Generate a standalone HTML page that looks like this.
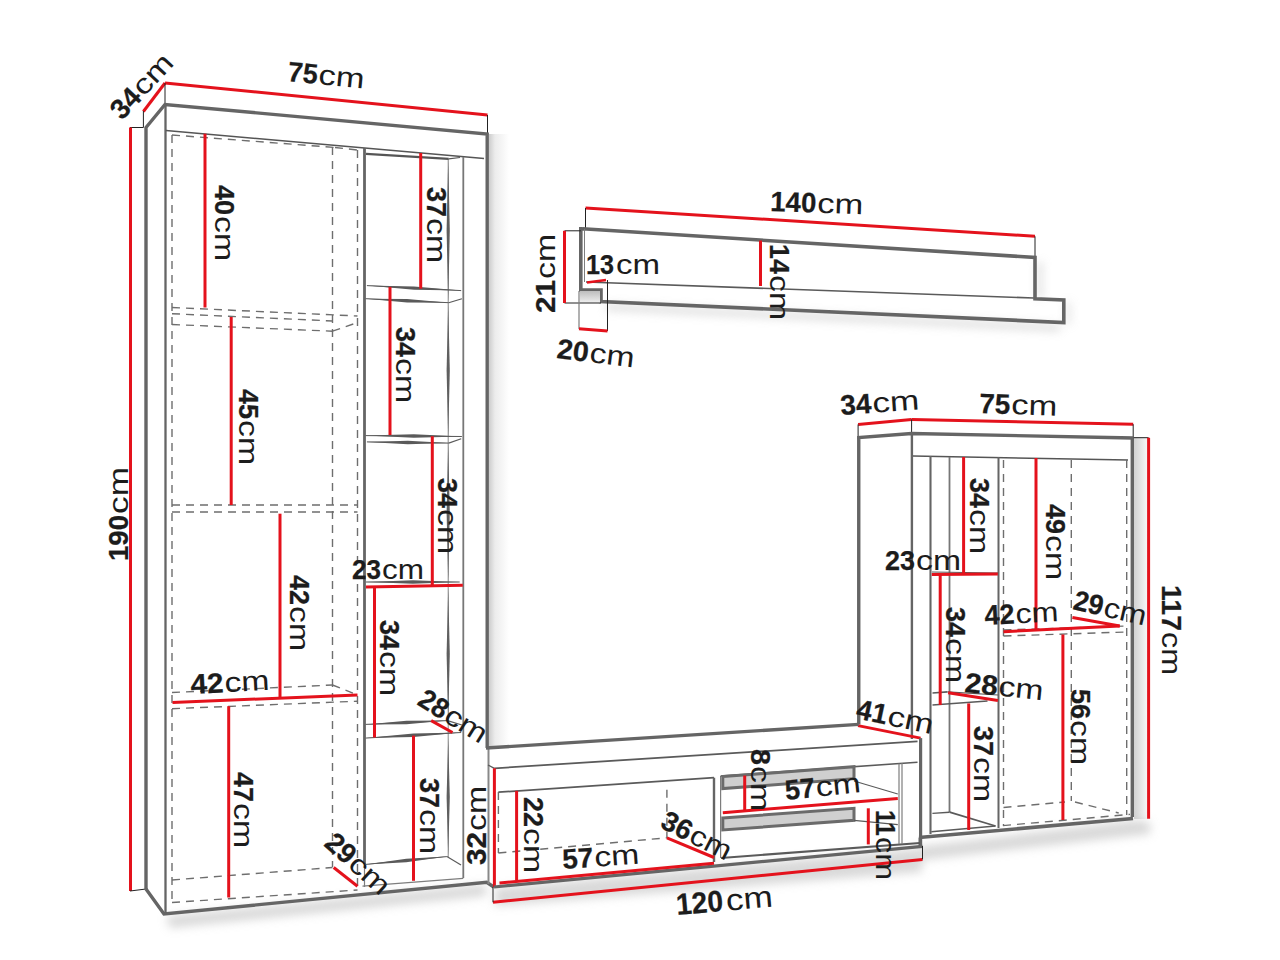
<!DOCTYPE html>
<html><head><meta charset="utf-8"><style>
html,body{margin:0;padding:0;background:#fff;}
svg{display:block;}
text{font-family:"Liberation Sans",sans-serif;fill:#1c1c1c;}
</style></head><body>
<svg width="1280" height="960" viewBox="0 0 1280 960">
<defs>
<linearGradient id="gH" x1="0" y1="0" x2="1" y2="0"><stop offset="0" stop-color="#cdcdcd"/><stop offset="0.3" stop-color="#ececec"/><stop offset="1" stop-color="#fff"/></linearGradient>
<linearGradient id="gH2" x1="0" y1="0" x2="1" y2="0"><stop offset="0" stop-color="#d2d2d2"/><stop offset="1" stop-color="#f8f8f8"/></linearGradient>
<linearGradient id="gV" x1="0" y1="0" x2="0" y2="1"><stop offset="0" stop-color="#bdbdbd"/><stop offset="1" stop-color="#f0f0f0"/></linearGradient>
<filter id="blur" x="-20%" y="-50%" width="140%" height="200%"><feGaussianBlur stdDeviation="5"/></filter>
</defs>
<rect width="1280" height="960" fill="#fff"/>
<rect x="489" y="134" width="20" height="614" fill="url(#gH)"/>
<rect x="1134" y="437" width="14" height="382" fill="url(#gH2)"/>
<g filter="url(#blur)" fill="#c0c0c0" opacity="0.6">
<polygon points="166,916 486,884 486,896 170,928"/>
<polygon points="606,304 1060,325 1060,331 606,310"/>
<polygon points="1037,262 1042,262 1042,298 1037,298"/>
<polygon points="1066,302 1070,302 1070,324 1066,324"/>
<polygon points="495,888 922,848 922,872 495,906"/>
<polygon points="922,846 1134,820 1150,822 1150,834 922,860"/>
</g>
<line x1="143.4" y1="111.5" x2="165" y2="83" stroke="#e4121c" stroke-width="3" />
<line x1="165" y1="83" x2="487.5" y2="115" stroke="#e4121c" stroke-width="3" />
<line x1="165" y1="83" x2="165" y2="105" stroke="#222" stroke-width="1" />
<line x1="143.4" y1="111" x2="143.4" y2="127.5" stroke="#222" stroke-width="1" />
<line x1="130" y1="127.5" x2="143.4" y2="127.5" stroke="#222" stroke-width="1" />
<line x1="487.5" y1="115" x2="487.5" y2="134" stroke="#222" stroke-width="1" />
<line x1="130.5" y1="127.5" x2="130.5" y2="891" stroke="#e4121c" stroke-width="3" />
<line x1="130" y1="891" x2="146" y2="889" stroke="#222" stroke-width="1" />
<polyline points="146,889 146,127.5 165,104.5 487.2,134 487.2,748" stroke="#656565" stroke-width="3.4" fill="none" stroke-linejoin="miter" />
<polyline points="146,889 164,914 486.7,882.3 493.8,887" stroke="#656565" stroke-width="3.4" fill="none" stroke-linejoin="miter" />
<line x1="165.5" y1="104.5" x2="165.5" y2="914" stroke="#656565" stroke-width="2.3" />
<line x1="166" y1="130.5" x2="484" y2="158.5" stroke="#555" stroke-width="1.5" />
<line x1="364.5" y1="148" x2="364.5" y2="864" stroke="#656565" stroke-width="2.8" />
<line x1="364.5" y1="864" x2="364.5" y2="887" stroke="#7d7d7d" stroke-width="1.2" />
<line x1="448.2" y1="159" x2="448.2" y2="857" stroke="#8a8a8a" stroke-width="1.0" />
<polygon points="448.2,159 449.8,230.5 448.2,302 446.59999999999997,230.5" fill="#5f5f5f" />
<polygon points="448.2,303 449.8,370.5 448.2,438 446.59999999999997,370.5" fill="#5f5f5f" />
<polygon points="448.2,443 449.8,512.5 448.2,582 446.59999999999997,512.5" fill="#5f5f5f" />
<polygon points="448.2,588 449.8,654.0 448.2,720 446.59999999999997,654.0" fill="#5f5f5f" />
<polygon points="448.2,738 449.8,797.0 448.2,856 446.59999999999997,797.0" fill="#5f5f5f" />
<line x1="463.3" y1="157" x2="463.3" y2="878" stroke="#777" stroke-width="1.8" />
<line x1="488.5" y1="748" x2="488.5" y2="884" stroke="#888" stroke-width="2" />
<line x1="366" y1="153.8" x2="448.7" y2="158.8" stroke="#555" stroke-width="2.2" />
<line x1="448.7" y1="158.8" x2="460" y2="157.5" stroke="#555" stroke-width="1.2" />
<line x1="366.9" y1="285.6" x2="461.2" y2="290.6" stroke="#5a5a5a" stroke-width="1.0" />
<polygon points="366.9,285.6 414.04999999999995,286.40000000000003 461.2,290.6 414.04999999999995,289.8" fill="#5a5a5a" />
<line x1="365.6" y1="298.7" x2="448.7" y2="302.7" stroke="#5a5a5a" stroke-width="1.0" />
<polygon points="365.6,298.7 407.15,299.0 448.7,302.7 407.15,302.4" fill="#5a5a5a" />
<line x1="448.7" y1="302.7" x2="461.9" y2="298.7" stroke="#5a5a5a" stroke-width="1.2" />
<line x1="365.6" y1="435.6" x2="461.9" y2="436.5" stroke="#5a5a5a" stroke-width="1.0" />
<polygon points="365.6,435.6 413.75,434.35 461.9,436.5 413.75,437.75" fill="#5a5a5a" />
<line x1="366.9" y1="441.9" x2="448.7" y2="443.1" stroke="#5a5a5a" stroke-width="1.0" />
<polygon points="366.9,441.9 407.79999999999995,440.8 448.7,443.1 407.79999999999995,444.2" fill="#5a5a5a" />
<line x1="448.7" y1="443.1" x2="461.2" y2="438.7" stroke="#5a5a5a" stroke-width="1.2" />
<line x1="366" y1="582" x2="459.7" y2="582" stroke="#5a5a5a" stroke-width="1.0" />
<polygon points="366,582 412.85,580.3 459.7,582 412.85,583.7" fill="#5a5a5a" />
<line x1="365.6" y1="724.4" x2="447.5" y2="720.6" stroke="#5a5a5a" stroke-width="1.0" />
<polygon points="365.6,724.4 406.55,720.8 447.5,720.6 406.55,724.2" fill="#5a5a5a" />
<line x1="447.5" y1="720.6" x2="461.9" y2="725" stroke="#5a5a5a" stroke-width="1.2" />
<line x1="365.6" y1="738.1" x2="461.2" y2="732.5" stroke="#5a5a5a" stroke-width="1.0" />
<polygon points="365.6,738.1 413.4,733.5999999999999 461.2,732.5 413.4,737.0" fill="#5a5a5a" />
<line x1="365.6" y1="864.4" x2="446.9" y2="856.6" stroke="#5a5a5a" stroke-width="1.0" />
<polygon points="365.6,864.4 406.25,858.8 446.9,856.6 406.25,862.2" fill="#5a5a5a" />
<line x1="446.9" y1="856.6" x2="461" y2="865" stroke="#5a5a5a" stroke-width="1.2" />
<line x1="362.5" y1="886.2" x2="463.3" y2="878.4" stroke="#7d7d7d" stroke-width="1.2" />
<line x1="172" y1="135" x2="172" y2="902" stroke="#6e6e6e" stroke-width="1.4" stroke-dasharray="8 6"/>
<line x1="332.5" y1="147" x2="332.5" y2="867" stroke="#6e6e6e" stroke-width="1.4" stroke-dasharray="8 6"/>
<line x1="357.5" y1="150" x2="357.5" y2="890" stroke="#6e6e6e" stroke-width="1.4" stroke-dasharray="8 6"/>
<line x1="172" y1="135" x2="335" y2="147.5" stroke="#6e6e6e" stroke-width="1.4" stroke-dasharray="8 6"/>
<line x1="335" y1="147.5" x2="357.5" y2="150" stroke="#6e6e6e" stroke-width="1.4" stroke-dasharray="8 6"/>
<line x1="172" y1="307.5" x2="357.5" y2="316" stroke="#6e6e6e" stroke-width="1.4" stroke-dasharray="8 6"/>
<line x1="172" y1="313.7" x2="332.5" y2="321" stroke="#6e6e6e" stroke-width="1.4" stroke-dasharray="8 6"/>
<line x1="172" y1="324.5" x2="332.5" y2="331.2" stroke="#6e6e6e" stroke-width="1.4" stroke-dasharray="8 6"/>
<line x1="332.5" y1="331.2" x2="357.5" y2="322.5" stroke="#6e6e6e" stroke-width="1.4" stroke-dasharray="8 6"/>
<line x1="172" y1="505" x2="357.5" y2="505" stroke="#6e6e6e" stroke-width="1.4" stroke-dasharray="8 6"/>
<line x1="172" y1="512" x2="357.5" y2="512" stroke="#6e6e6e" stroke-width="1.4" stroke-dasharray="8 6"/>
<line x1="172" y1="692.5" x2="332.5" y2="685" stroke="#6e6e6e" stroke-width="1.4" stroke-dasharray="8 6"/>
<line x1="332.5" y1="685" x2="357.5" y2="695" stroke="#6e6e6e" stroke-width="1.4" stroke-dasharray="8 6"/>
<line x1="172" y1="708.7" x2="357.5" y2="701.2" stroke="#6e6e6e" stroke-width="1.4" stroke-dasharray="8 6"/>
<line x1="172" y1="880" x2="332.5" y2="867.5" stroke="#6e6e6e" stroke-width="1.4" stroke-dasharray="8 6"/>
<line x1="172" y1="902.5" x2="357.5" y2="890" stroke="#6e6e6e" stroke-width="1.4" stroke-dasharray="8 6"/>
<line x1="205" y1="133.7" x2="205" y2="307.5" stroke="#e4121c" stroke-width="3" />
<line x1="231.2" y1="317" x2="231.2" y2="505" stroke="#e4121c" stroke-width="3" />
<line x1="280" y1="513.7" x2="280" y2="697.5" stroke="#e4121c" stroke-width="3" />
<line x1="172.5" y1="702.5" x2="357.5" y2="695" stroke="#e4121c" stroke-width="3" />
<line x1="228.7" y1="706.2" x2="228.7" y2="897.5" stroke="#e4121c" stroke-width="3" />
<line x1="333.7" y1="867.5" x2="357.5" y2="886.2" stroke="#e4121c" stroke-width="3" />
<line x1="420.7" y1="153" x2="420.7" y2="288.7" stroke="#e4121c" stroke-width="3" />
<line x1="390" y1="286.9" x2="390" y2="435" stroke="#e4121c" stroke-width="3" />
<line x1="432.3" y1="436.2" x2="432.3" y2="586" stroke="#e4121c" stroke-width="3" />
<line x1="366" y1="586.9" x2="462.8" y2="585.3" stroke="#e4121c" stroke-width="3" />
<line x1="374.5" y1="587" x2="374.5" y2="737.5" stroke="#e4121c" stroke-width="3" />
<line x1="431.2" y1="720.6" x2="452.5" y2="732.5" stroke="#e4121c" stroke-width="3" />
<line x1="413.5" y1="735.6" x2="413.5" y2="880.8" stroke="#e4121c" stroke-width="3" />
<line x1="585.5" y1="208" x2="1035" y2="236.3" stroke="#e4121c" stroke-width="3" />
<line x1="585.5" y1="208" x2="585.5" y2="228.5" stroke="#222" stroke-width="1" />
<line x1="1035" y1="236.3" x2="1035" y2="257.5" stroke="#222" stroke-width="1" />
<polyline points="582.5,228.8 1035,257.5 1035,298.8 1063.8,300 1063.8,322.5 601,301.5 601,290 580.8,290 580.8,228.8 582.5,228.8" stroke="#656565" stroke-width="3.6" fill="none" stroke-linejoin="miter" />
<rect x="580" y="291" width="20" height="12" fill="url(#gV)"/>
<line x1="586" y1="282" x2="1033.7" y2="298" stroke="#5a5a5a" stroke-width="1.6" />
<line x1="584.5" y1="229" x2="584.5" y2="282" stroke="#7d7d7d" stroke-width="1" />
<line x1="587" y1="282.5" x2="606" y2="280" stroke="#e4121c" stroke-width="2.5" />
<line x1="607.5" y1="280" x2="607.5" y2="331" stroke="#222" stroke-width="1" />
<line x1="564.5" y1="230.8" x2="580.8" y2="230.8" stroke="#222" stroke-width="1" />
<line x1="564.5" y1="303" x2="601" y2="303" stroke="#222" stroke-width="1" />
<line x1="564.5" y1="230.8" x2="564.5" y2="303" stroke="#e4121c" stroke-width="3" />
<line x1="579" y1="291" x2="579" y2="329" stroke="#7d7d7d" stroke-width="1.2" />
<line x1="579" y1="328.8" x2="607.5" y2="331" stroke="#e4121c" stroke-width="3" />
<line x1="760.5" y1="240.5" x2="760.5" y2="286" stroke="#e4121c" stroke-width="3" />
<line x1="858.1" y1="424.4" x2="911.6" y2="419.4" stroke="#e4121c" stroke-width="3" />
<line x1="911.6" y1="419.4" x2="1133.2" y2="424.2" stroke="#e4121c" stroke-width="3" />
<line x1="858.1" y1="424.4" x2="858.1" y2="439" stroke="#222" stroke-width="1" />
<line x1="911.6" y1="419.4" x2="911.6" y2="434.8" stroke="#222" stroke-width="1" />
<line x1="1133.2" y1="424.2" x2="1133.2" y2="439" stroke="#222" stroke-width="1" />
<polyline points="858.75,724.4 858.75,437.5 911.6,433.5 1132.3,438 1132.3,817" stroke="#656565" stroke-width="3.4" fill="none" stroke-linejoin="miter" />
<line x1="1133.7" y1="437.7" x2="1148.6" y2="437.7" stroke="#222" stroke-width="1" />
<line x1="1148.6" y1="437.7" x2="1148.6" y2="818.7" stroke="#e4121c" stroke-width="3" />
<line x1="911.9" y1="435" x2="911.9" y2="739" stroke="#656565" stroke-width="2.4" />
<line x1="913" y1="456" x2="1128" y2="460" stroke="#555" stroke-width="1.5" />
<line x1="930.5" y1="456" x2="930.5" y2="834" stroke="#656565" stroke-width="2.1" />
<line x1="949.5" y1="457" x2="949.5" y2="812" stroke="#777" stroke-width="1.8" />
<line x1="998.5" y1="457" x2="998.5" y2="828" stroke="#656565" stroke-width="2.0" />
<line x1="1003.5" y1="460" x2="1003.5" y2="826" stroke="#6e6e6e" stroke-width="1.4" stroke-dasharray="8 6"/>
<line x1="1071.3" y1="460" x2="1071.3" y2="801" stroke="#6e6e6e" stroke-width="1.4" stroke-dasharray="8 6"/>
<line x1="1126.7" y1="460" x2="1126.7" y2="815" stroke="#6e6e6e" stroke-width="1.4" stroke-dasharray="8 6"/>
<line x1="919" y1="837.5" x2="1133" y2="818.5" stroke="#656565" stroke-width="3.6" />
<line x1="920" y1="837.5" x2="920" y2="846" stroke="#656565" stroke-width="3" />
<line x1="932" y1="572" x2="998" y2="573" stroke="#5a5a5a" stroke-width="1.2" />
<line x1="932.5" y1="693" x2="947.5" y2="691.9" stroke="#5a5a5a" stroke-width="1.6" />
<line x1="947.5" y1="691.9" x2="998" y2="695" stroke="#5a5a5a" stroke-width="1.2" />
<line x1="932.5" y1="705" x2="987.5" y2="701" stroke="#5a5a5a" stroke-width="1.6" />
<line x1="1003.5" y1="630" x2="1126.7" y2="626" stroke="#6e6e6e" stroke-width="1.4" stroke-dasharray="8 6"/>
<line x1="1003.5" y1="636" x2="1126.7" y2="632" stroke="#6e6e6e" stroke-width="1.4" stroke-dasharray="8 6"/>
<line x1="1003.5" y1="807.5" x2="1065" y2="802" stroke="#6e6e6e" stroke-width="1.4" stroke-dasharray="8 6"/>
<line x1="1075" y1="802" x2="1118.7" y2="813" stroke="#6e6e6e" stroke-width="1.4" stroke-dasharray="8 6"/>
<line x1="1003" y1="825.6" x2="1130" y2="814.4" stroke="#6e6e6e" stroke-width="1.4" stroke-dasharray="8 6"/>
<line x1="932.4" y1="813.4" x2="949.6" y2="812.2" stroke="#5a5a5a" stroke-width="1.4" />
<line x1="949.6" y1="812.2" x2="995.5" y2="826" stroke="#5a5a5a" stroke-width="1.8" />
<line x1="931.3" y1="831.7" x2="995.5" y2="826" stroke="#5a5a5a" stroke-width="1.4" />
<line x1="963.6" y1="457" x2="963.6" y2="574" stroke="#e4121c" stroke-width="3" />
<line x1="1036" y1="458" x2="1036" y2="629.7" stroke="#e4121c" stroke-width="3" />
<line x1="931.8" y1="574.6" x2="997.9" y2="574" stroke="#e4121c" stroke-width="3" />
<line x1="940.2" y1="574.6" x2="940.2" y2="705" stroke="#e4121c" stroke-width="3" />
<line x1="1003.5" y1="631.7" x2="1119.7" y2="626" stroke="#e4121c" stroke-width="3" />
<line x1="1072.4" y1="617.6" x2="1119.7" y2="626" stroke="#e4121c" stroke-width="3" />
<line x1="948.1" y1="692.7" x2="997.9" y2="700.6" stroke="#e4121c" stroke-width="3" />
<line x1="968.7" y1="703.4" x2="968.7" y2="830" stroke="#e4121c" stroke-width="3" />
<line x1="1062.9" y1="634.5" x2="1062.9" y2="820" stroke="#e4121c" stroke-width="3" />
<line x1="858" y1="725.6" x2="920.6" y2="738.1" stroke="#e4121c" stroke-width="3" />
<line x1="486" y1="748" x2="858.75" y2="724.4" stroke="#656565" stroke-width="3.4" />
<line x1="488" y1="765" x2="494.4" y2="768.3" stroke="#5a5a5a" stroke-width="1.4" />
<line x1="494.4" y1="768.3" x2="917.5" y2="741.4" stroke="#5a5a5a" stroke-width="1.8" />
<line x1="920.6" y1="738.1" x2="920.6" y2="846" stroke="#656565" stroke-width="3.2" />
<line x1="494.4" y1="768.3" x2="494.4" y2="887" stroke="#e4121c" stroke-width="3" />
<polyline points="494,887 922.5,846.3" stroke="#656565" stroke-width="3.2" fill="none" stroke-linejoin="miter" />
<line x1="721" y1="858" x2="920" y2="843" stroke="#5a5a5a" stroke-width="2.2" />
<line x1="498.4" y1="792.2" x2="714" y2="777.7" stroke="#5a5a5a" stroke-width="1.8" />
<line x1="714" y1="777.7" x2="714" y2="862" stroke="#656565" stroke-width="2.4" />
<line x1="720.6" y1="776" x2="720.6" y2="858" stroke="#7d7d7d" stroke-width="1.2" />
<line x1="720.6" y1="776" x2="917.5" y2="762.3" stroke="#5a5a5a" stroke-width="1.6" />
<line x1="899" y1="763.4" x2="899" y2="844" stroke="#7d7d7d" stroke-width="1.2" />
<line x1="902" y1="763" x2="902" y2="844" stroke="#7d7d7d" stroke-width="1.2" />
<line x1="498.4" y1="792" x2="498.4" y2="853" stroke="#6e6e6e" stroke-width="1.4" stroke-dasharray="8 6"/>
<line x1="498.4" y1="853" x2="666.9" y2="837.8" stroke="#6e6e6e" stroke-width="1.4" stroke-dasharray="8 6"/>
<line x1="666.9" y1="789.7" x2="666.9" y2="837.8" stroke="#6e6e6e" stroke-width="1.4" stroke-dasharray="8 6"/>
<polygon points="722.8,776.6 854,766.7 854,778.7 722.8,788.6" fill="#cfcfcf" stroke="#6b6b6b" stroke-width="3"/>
<polygon points="722.8,818 854,808.3 854,820.3 722.8,830" fill="#cfcfcf" stroke="#6b6b6b" stroke-width="3"/>
<line x1="854" y1="781" x2="897.8" y2="794" stroke="#5a5a5a" stroke-width="1.2" />
<line x1="854" y1="820.3" x2="897.8" y2="824.7" stroke="#5a5a5a" stroke-width="1.2" />
<line x1="516.6" y1="790.8" x2="516.6" y2="880.5" stroke="#e4121c" stroke-width="3" />
<line x1="499.5" y1="883" x2="714" y2="863.3" stroke="#e4121c" stroke-width="3" />
<line x1="666.9" y1="837.8" x2="714" y2="857.5" stroke="#e4121c" stroke-width="3" />
<line x1="744.7" y1="775.5" x2="744.7" y2="810.5" stroke="#e4121c" stroke-width="3" />
<line x1="722.8" y1="812.7" x2="897.8" y2="798.4" stroke="#e4121c" stroke-width="3" />
<line x1="868.3" y1="808.3" x2="868.3" y2="844.4" stroke="#e4121c" stroke-width="3" />
<line x1="493" y1="902.3" x2="922.5" y2="859.4" stroke="#e4121c" stroke-width="3" />
<line x1="493" y1="887" x2="493" y2="902.3" stroke="#222" stroke-width="1" />
<line x1="922.5" y1="846" x2="922.5" y2="859.4" stroke="#222" stroke-width="1" />
<g transform="translate(122,121) rotate(-47)"><text x="0" y="0" font-size="28" font-weight="bold" stroke="#1c1c1c" stroke-width="0.25" textLength="31" lengthAdjust="spacingAndGlyphs">34</text><text x="32" y="0" font-size="28" textLength="46" lengthAdjust="spacingAndGlyphs">cm</text></g>
<g transform="translate(287,81) rotate(5.7)"><text x="0" y="0" font-size="28" font-weight="bold" stroke="#1c1c1c" stroke-width="0.25" textLength="30" lengthAdjust="spacingAndGlyphs">75</text><text x="31" y="0" font-size="28" textLength="46" lengthAdjust="spacingAndGlyphs">cm</text></g>
<g transform="translate(215,185) rotate(90)"><text x="0" y="0" font-size="28" font-weight="bold" stroke="#1c1c1c" stroke-width="0.25" textLength="30" lengthAdjust="spacingAndGlyphs">40</text><text x="31" y="0" font-size="28" textLength="45" lengthAdjust="spacingAndGlyphs">cm</text></g>
<g transform="translate(427,187) rotate(90)"><text x="0" y="0" font-size="28" font-weight="bold" stroke="#1c1c1c" stroke-width="0.25" textLength="30" lengthAdjust="spacingAndGlyphs">37</text><text x="31" y="0" font-size="28" textLength="45" lengthAdjust="spacingAndGlyphs">cm</text></g>
<g transform="translate(239,389) rotate(90)"><text x="0" y="0" font-size="28" font-weight="bold" stroke="#1c1c1c" stroke-width="0.25" textLength="30" lengthAdjust="spacingAndGlyphs">45</text><text x="31" y="0" font-size="28" textLength="45" lengthAdjust="spacingAndGlyphs">cm</text></g>
<g transform="translate(396,327) rotate(90)"><text x="0" y="0" font-size="28" font-weight="bold" stroke="#1c1c1c" stroke-width="0.25" textLength="30" lengthAdjust="spacingAndGlyphs">34</text><text x="31" y="0" font-size="28" textLength="45" lengthAdjust="spacingAndGlyphs">cm</text></g>
<g transform="translate(438,478) rotate(90)"><text x="0" y="0" font-size="28" font-weight="bold" stroke="#1c1c1c" stroke-width="0.25" textLength="30" lengthAdjust="spacingAndGlyphs">34</text><text x="31" y="0" font-size="28" textLength="45" lengthAdjust="spacingAndGlyphs">cm</text></g>
<g transform="translate(290,575) rotate(90)"><text x="0" y="0" font-size="28" font-weight="bold" stroke="#1c1c1c" stroke-width="0.25" textLength="30" lengthAdjust="spacingAndGlyphs">42</text><text x="31" y="0" font-size="28" textLength="45" lengthAdjust="spacingAndGlyphs">cm</text></g>
<g transform="translate(380,620) rotate(90)"><text x="0" y="0" font-size="28" font-weight="bold" stroke="#1c1c1c" stroke-width="0.25" textLength="30" lengthAdjust="spacingAndGlyphs">34</text><text x="31" y="0" font-size="28" textLength="45" lengthAdjust="spacingAndGlyphs">cm</text></g>
<g transform="translate(234,772) rotate(90)"><text x="0" y="0" font-size="28" font-weight="bold" stroke="#1c1c1c" stroke-width="0.25" textLength="30" lengthAdjust="spacingAndGlyphs">47</text><text x="31" y="0" font-size="28" textLength="45" lengthAdjust="spacingAndGlyphs">cm</text></g>
<g transform="translate(420,778) rotate(90)"><text x="0" y="0" font-size="28" font-weight="bold" stroke="#1c1c1c" stroke-width="0.25" textLength="30" lengthAdjust="spacingAndGlyphs">37</text><text x="31" y="0" font-size="28" textLength="45" lengthAdjust="spacingAndGlyphs">cm</text></g>
<g transform="translate(128,561) rotate(-90)"><text x="0" y="0" font-size="28" font-weight="bold" stroke="#1c1c1c" stroke-width="0.25" textLength="46" lengthAdjust="spacingAndGlyphs">190</text><text x="47" y="0" font-size="28" textLength="47" lengthAdjust="spacingAndGlyphs">cm</text></g>
<g transform="translate(352,579) rotate(0)"><text x="0" y="0" font-size="28" font-weight="bold" stroke="#1c1c1c" stroke-width="0.25" textLength="29" lengthAdjust="spacingAndGlyphs">23</text><text x="30" y="0" font-size="28" textLength="42" lengthAdjust="spacingAndGlyphs">cm</text></g>
<g transform="translate(191,694) rotate(-3)"><text x="0" y="0" font-size="28" font-weight="bold" stroke="#1c1c1c" stroke-width="0.25" textLength="33" lengthAdjust="spacingAndGlyphs">42</text><text x="34" y="0" font-size="28" textLength="45" lengthAdjust="spacingAndGlyphs">cm</text></g>
<g transform="translate(416,704) rotate(32)"><text x="0" y="0" font-size="28" font-weight="bold" stroke="#1c1c1c" stroke-width="0.25" textLength="30" lengthAdjust="spacingAndGlyphs">28</text><text x="31" y="0" font-size="28" textLength="45" lengthAdjust="spacingAndGlyphs">cm</text></g>
<g transform="translate(323,845) rotate(42)"><text x="0" y="0" font-size="28" font-weight="bold" stroke="#1c1c1c" stroke-width="0.25" textLength="31" lengthAdjust="spacingAndGlyphs">29</text><text x="32" y="0" font-size="28" textLength="45" lengthAdjust="spacingAndGlyphs">cm</text></g>
<g transform="translate(486,865) rotate(-90)"><text x="0" y="0" font-size="28" font-weight="bold" stroke="#1c1c1c" stroke-width="0.25" textLength="33" lengthAdjust="spacingAndGlyphs">32</text><text x="34" y="0" font-size="28" textLength="45" lengthAdjust="spacingAndGlyphs">cm</text></g>
<g transform="translate(770,211) rotate(2)"><text x="0" y="0" font-size="28" font-weight="bold" stroke="#1c1c1c" stroke-width="0.25" textLength="46" lengthAdjust="spacingAndGlyphs">140</text><text x="47" y="0" font-size="28" textLength="46" lengthAdjust="spacingAndGlyphs">cm</text></g>
<g transform="translate(555,313) rotate(-90)"><text x="0" y="0" font-size="28" font-weight="bold" stroke="#1c1c1c" stroke-width="0.25" textLength="33" lengthAdjust="spacingAndGlyphs">21</text><text x="34" y="0" font-size="28" textLength="45" lengthAdjust="spacingAndGlyphs">cm</text></g>
<g transform="translate(586,274) rotate(0)"><text x="0" y="0" font-size="28" font-weight="bold" stroke="#1c1c1c" stroke-width="0.25" textLength="28" lengthAdjust="spacingAndGlyphs">13</text><text x="30" y="0" font-size="28" textLength="44" lengthAdjust="spacingAndGlyphs">cm</text></g>
<g transform="translate(770,244) rotate(90)"><text x="0" y="0" font-size="28" font-weight="bold" stroke="#1c1c1c" stroke-width="0.25" textLength="30" lengthAdjust="spacingAndGlyphs">14</text><text x="31" y="0" font-size="28" textLength="45" lengthAdjust="spacingAndGlyphs">cm</text></g>
<g transform="translate(556,358) rotate(7)"><text x="0" y="0" font-size="28" font-weight="bold" stroke="#1c1c1c" stroke-width="0.25" textLength="32" lengthAdjust="spacingAndGlyphs">20</text><text x="33" y="0" font-size="28" textLength="45" lengthAdjust="spacingAndGlyphs">cm</text></g>
<g transform="translate(841,415) rotate(-4)"><text x="0" y="0" font-size="28" font-weight="bold" stroke="#1c1c1c" stroke-width="0.25" textLength="31" lengthAdjust="spacingAndGlyphs">34</text><text x="32" y="0" font-size="28" textLength="47" lengthAdjust="spacingAndGlyphs">cm</text></g>
<g transform="translate(979,413) rotate(2)"><text x="0" y="0" font-size="28" font-weight="bold" stroke="#1c1c1c" stroke-width="0.25" textLength="31" lengthAdjust="spacingAndGlyphs">75</text><text x="32" y="0" font-size="28" textLength="46" lengthAdjust="spacingAndGlyphs">cm</text></g>
<g transform="translate(970,478) rotate(90)"><text x="0" y="0" font-size="28" font-weight="bold" stroke="#1c1c1c" stroke-width="0.25" textLength="30" lengthAdjust="spacingAndGlyphs">34</text><text x="31" y="0" font-size="28" textLength="45" lengthAdjust="spacingAndGlyphs">cm</text></g>
<g transform="translate(1046,504) rotate(90)"><text x="0" y="0" font-size="28" font-weight="bold" stroke="#1c1c1c" stroke-width="0.25" textLength="30" lengthAdjust="spacingAndGlyphs">49</text><text x="31" y="0" font-size="28" textLength="45" lengthAdjust="spacingAndGlyphs">cm</text></g>
<g transform="translate(885,570) rotate(0)"><text x="0" y="0" font-size="28" font-weight="bold" stroke="#1c1c1c" stroke-width="0.25" textLength="30" lengthAdjust="spacingAndGlyphs">23</text><text x="31" y="0" font-size="28" textLength="45" lengthAdjust="spacingAndGlyphs">cm</text></g>
<g transform="translate(985,625) rotate(-3)"><text x="0" y="0" font-size="28" font-weight="bold" stroke="#1c1c1c" stroke-width="0.25" textLength="30" lengthAdjust="spacingAndGlyphs">42</text><text x="31" y="0" font-size="28" textLength="43" lengthAdjust="spacingAndGlyphs">cm</text></g>
<g transform="translate(1072,609) rotate(13)"><text x="0" y="0" font-size="28" font-weight="bold" stroke="#1c1c1c" stroke-width="0.25" textLength="30" lengthAdjust="spacingAndGlyphs">29</text><text x="31" y="0" font-size="28" textLength="43" lengthAdjust="spacingAndGlyphs">cm</text></g>
<g transform="translate(1162,585) rotate(90)"><text x="0" y="0" font-size="28" font-weight="bold" stroke="#1c1c1c" stroke-width="0.25" textLength="46" lengthAdjust="spacingAndGlyphs">117</text><text x="47" y="0" font-size="28" textLength="43" lengthAdjust="spacingAndGlyphs">cm</text></g>
<g transform="translate(946,607) rotate(90)"><text x="0" y="0" font-size="28" font-weight="bold" stroke="#1c1c1c" stroke-width="0.25" textLength="30" lengthAdjust="spacingAndGlyphs">34</text><text x="31" y="0" font-size="28" textLength="45" lengthAdjust="spacingAndGlyphs">cm</text></g>
<g transform="translate(964,692) rotate(6)"><text x="0" y="0" font-size="28" font-weight="bold" stroke="#1c1c1c" stroke-width="0.25" textLength="33" lengthAdjust="spacingAndGlyphs">28</text><text x="34" y="0" font-size="28" textLength="45" lengthAdjust="spacingAndGlyphs">cm</text></g>
<g transform="translate(1071,689) rotate(90)"><text x="0" y="0" font-size="28" font-weight="bold" stroke="#1c1c1c" stroke-width="0.25" textLength="30" lengthAdjust="spacingAndGlyphs">56</text><text x="31" y="0" font-size="28" textLength="45" lengthAdjust="spacingAndGlyphs">cm</text></g>
<g transform="translate(855,718) rotate(12)"><text x="0" y="0" font-size="28" font-weight="bold" stroke="#1c1c1c" stroke-width="0.25" textLength="31" lengthAdjust="spacingAndGlyphs">41</text><text x="32" y="0" font-size="28" textLength="46" lengthAdjust="spacingAndGlyphs">cm</text></g>
<g transform="translate(974,726) rotate(90)"><text x="0" y="0" font-size="28" font-weight="bold" stroke="#1c1c1c" stroke-width="0.25" textLength="30" lengthAdjust="spacingAndGlyphs">37</text><text x="31" y="0" font-size="28" textLength="45" lengthAdjust="spacingAndGlyphs">cm</text></g>
<g transform="translate(524,797) rotate(90)"><text x="0" y="0" font-size="28" font-weight="bold" stroke="#1c1c1c" stroke-width="0.25" textLength="30" lengthAdjust="spacingAndGlyphs">22</text><text x="31" y="0" font-size="28" textLength="45" lengthAdjust="spacingAndGlyphs">cm</text></g>
<g transform="translate(563,869) rotate(-4)"><text x="0" y="0" font-size="28" font-weight="bold" stroke="#1c1c1c" stroke-width="0.25" textLength="31" lengthAdjust="spacingAndGlyphs">57</text><text x="32" y="0" font-size="28" textLength="45" lengthAdjust="spacingAndGlyphs">cm</text></g>
<g transform="translate(659,827) rotate(27)"><text x="0" y="0" font-size="28" font-weight="bold" stroke="#1c1c1c" stroke-width="0.25" textLength="31" lengthAdjust="spacingAndGlyphs">36</text><text x="32" y="0" font-size="28" textLength="43" lengthAdjust="spacingAndGlyphs">cm</text></g>
<g transform="translate(751,749) rotate(90)"><text x="0" y="0" font-size="28" font-weight="bold" stroke="#1c1c1c" stroke-width="0.25" textLength="16" lengthAdjust="spacingAndGlyphs">8</text><text x="17" y="0" font-size="28" textLength="45" lengthAdjust="spacingAndGlyphs">cm</text></g>
<g transform="translate(786,800) rotate(-6)"><text x="0" y="0" font-size="28" font-weight="bold" stroke="#1c1c1c" stroke-width="0.25" textLength="30" lengthAdjust="spacingAndGlyphs">57</text><text x="31" y="0" font-size="28" textLength="45" lengthAdjust="spacingAndGlyphs">cm</text></g>
<g transform="translate(876,810) rotate(90)"><text x="0" y="0" font-size="28" font-weight="bold" stroke="#1c1c1c" stroke-width="0.25" textLength="26" lengthAdjust="spacingAndGlyphs">11</text><text x="27" y="0" font-size="28" textLength="43" lengthAdjust="spacingAndGlyphs">cm</text></g>
<g transform="translate(677,915) rotate(-5)"><text x="0" y="0" font-size="30" font-weight="bold" stroke="#1c1c1c" stroke-width="0.25" textLength="47" lengthAdjust="spacingAndGlyphs">120</text><text x="50" y="0" font-size="30" textLength="47" lengthAdjust="spacingAndGlyphs">cm</text></g>
</svg></body></html>
